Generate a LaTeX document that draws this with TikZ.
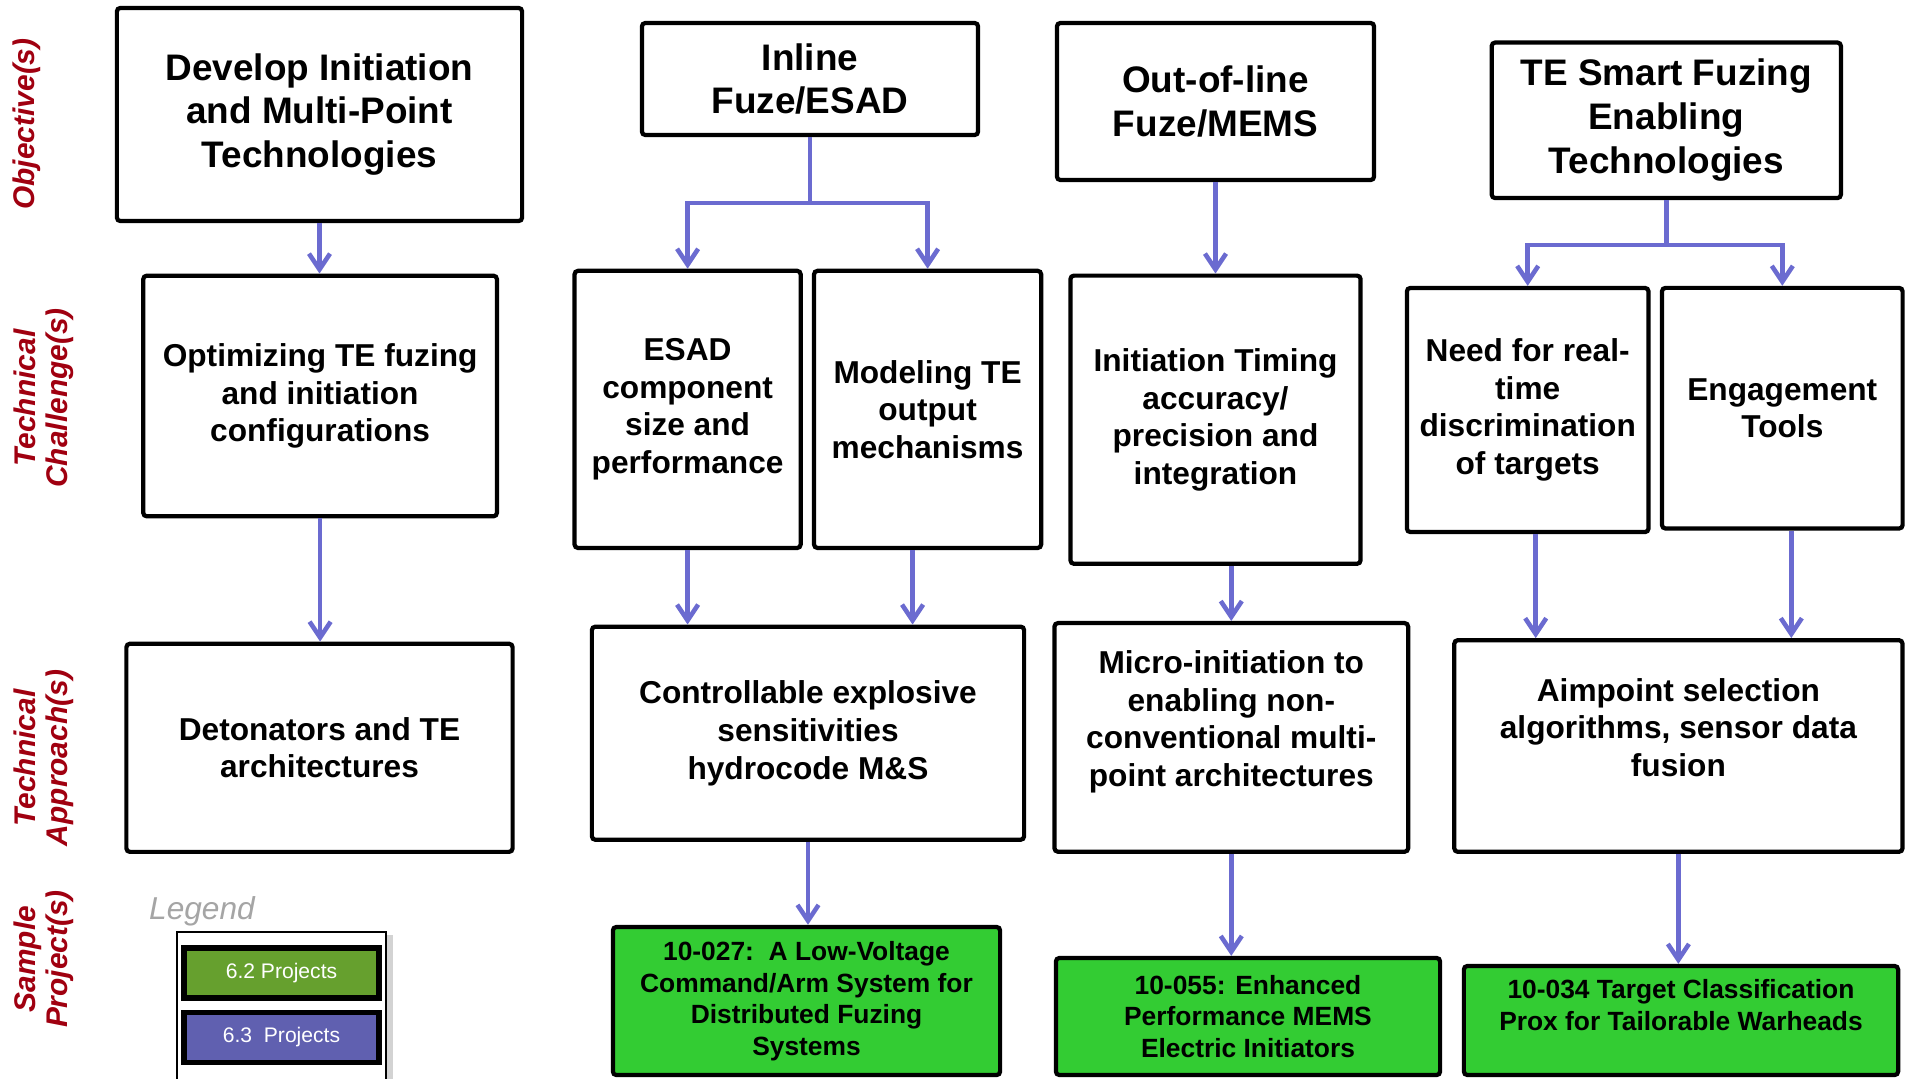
\documentclass[tikz,border=0pt]{standalone}
\usepackage{fontspec}
\setmainfont{Liberation Sans}
\usetikzlibrary{arrows.meta,positioning,shadows}
\definecolor{flowblue}{RGB}{107,107,208}
\definecolor{rowred}{RGB}{160,0,16}
\definecolor{projgreen}{RGB}{51,204,51}
\definecolor{leggreen}{RGB}{102,160,46}
\definecolor{legblue}{RGB}{96,96,176}
\definecolor{leggray}{RGB}{165,165,165}

\begin{document}
\begin{tikzpicture}[x=0.01cm, y=-0.01cm,
    box/.style={draw, line width=1.2pt, rounded corners=1pt, align=center, inner sep=2pt,
      font=\bfseries\fontsize{9}{10.7}\selectfont},
    objbox/.style={box, font=\bfseries\fontsize{10.5}{12.5}\selectfont},
    projbox/.style={box, fill=projgreen, font=\bfseries\fontsize{7.5}{9}\selectfont},
    legbox/.style={draw, line width=1.5pt, text=white, minimum width=1.95cm, minimum height=0.5cm,
      font=\fontsize{6}{7}\selectfont},
    rowlabel/.style={rotate=90, align=center, text=rowred, font=\bfseries\itshape\fontsize{8.5}{9}\selectfont},
    conn/.style={draw=flowblue, line width=1.3pt, -{Straight Barb[length=4.5pt,width=6pt]}}]
  \useasboundingbox (0,0) rectangle (1905,1078);

  % Row labels
  \node[rowlabel] (lobj) at (27,124) {Objective(s)};
  \node[rowlabel] (lchal) at (44,398) {Technical\\Challenge(s)};
  \node[rowlabel] (lappr) at (44,758) {Technical\\Approach(s)};
  \node[rowlabel] (lproj) at (44,959) {Sample\\Project(s)};

  % Objectives
  \node[objbox, minimum width=4.05cm, minimum height=2.13cm] (o1) at (319.5,114.5) {Develop Initiation\\and Multi-Point\\Technologies};
  \node[objbox, minimum width=3.36cm, minimum height=1.12cm] (o2) at (810,79) {Inline\\Fuze/ESAD};
  \node[objbox, minimum width=3.17cm, minimum height=1.57cm] (o3) at (1215.5,101.5) {Out-of-line\\Fuze/MEMS};
  \node[objbox, minimum width=3.49cm, minimum height=1.555cm] (o4) at (1666.3,120.3) {TE Smart Fuzing\\Enabling\\Technologies};

  % Technical challenges
  \node[box, minimum width=3.535cm, minimum height=2.405cm] (c1) at (320.1,396) {Optimizing TE fuzing\\and initiation\\configurations};
  \node[box, minimum width=2.26cm, minimum height=2.77cm] (c2) at (687.6,409.4) {ESAD\\component\\size and\\performance};
  \node[box, minimum width=2.27cm, minimum height=2.77cm] (c3) at (927.6,409.4) {Modeling TE\\output\\mechanisms};
  \node[box, minimum width=2.9cm, minimum height=2.88cm] (c4) at (1215.5,419.7) {Initiation Timing\\accuracy/\\precision and\\integration};
  \node[box, minimum width=2.415cm, minimum height=2.44cm] (c5) at (1527.7,410) {Need for real-\\time\\discrimination\\of targets};
  \node[box, minimum width=2.405cm, minimum height=2.405cm] (c6) at (1782.3,408.2) {Engagement\\Tools};

  % Technical approaches
  \node[box, minimum width=3.86cm, minimum height=2.08cm] (a1) at (319.5,747.8) {Detonators and TE\\architectures};
  \node[box, minimum width=4.32cm, minimum height=2.13cm] (a2) at (808,733.2) {Controllable explosive\\sensitivities\\hydrocode M\&S};
  \node[box, minimum width=3.535cm, minimum height=2.285cm] (a3) at (1231.3,737.4) {Micro-initiation to\\enabling non-\\conventional multi-\\point architectures\\ \mbox{}};
  \node[box, minimum width=4.48cm, minimum height=2.115cm] (a4) at (1678.4,746) {Aimpoint selection\\algorithms, sensor data\\fusion\\ \mbox{}};

  % Sample projects
  \node[projbox, minimum width=3.87cm, minimum height=1.48cm] (p1) at (806.5,1001) {10-027:\ \ A Low-Voltage\\Command/Arm System for\\Distributed Fuzing\\Systems};
  \node[projbox, minimum width=3.84cm, minimum height=1.17cm] (p2) at (1248,1016.5) {10-055: Enhanced\\Performance MEMS\\Electric Initiators};
  \node[projbox, minimum width=4.34cm, minimum height=1.09cm] (p3) at (1681,1020.5) {10-034 Target Classification\\Prox for Tailorable Warheads\\ \mbox{}};

  % Legend
  \node[text=leggray, font=\itshape\fontsize{9}{10}\selectfont] (legtitle) at (202,911) {Legend};
  \node[draw, thick, fill=white, minimum width=2.09cm, minimum height=1.6cm,
    drop shadow={shadow xshift=2pt, shadow yshift=-1pt, opacity=0.35}] (legend) at (281.5,1012) {};
  \node[legbox, fill=leggreen] (leg62) at (281.5,973) {6.2 Projects};
  \node[legbox, fill=legblue] (leg63) at (281.5,1037.5) {6.3\ \ Projects};

  % Connectors
  \draw[conn] (o1.south) -- (o1.south |- c1.north);
  \path (o2.south) ++(0,66) coordinate (o2split);
  \draw[conn] (o2.south) -- (o2split) -| (c2.north);
  \draw[conn] (o2split) -| (c3.north);
  \draw[conn] (o3.south) -- (o3.south |- c4.north);
  \path (o4.south) ++(0,45) coordinate (o4split);
  \draw[conn] (o4.south) -- (o4split) -| (c5.north);
  \draw[conn] (o4split) -| (c6.north);

  \coordinate (c3out) at ([xshift=-0.15cm]c3.south);
  \coordinate (c5out) at ([xshift=0.08cm]c5.south);
  \coordinate (c6out) at ([xshift=0.09cm]c6.south);
  \draw[conn] (c1.south) -- (c1.south |- a1.north);
  \draw[conn] (c2.south) -- (c2.south |- a2.north);
  \draw[conn] (c3out) -- (c3out |- a2.north);
  \draw[conn] (a3.north |- c4.south) -- (a3.north);
  \draw[conn] (c5out) -- (c5out |- a4.north);
  \draw[conn] (c6out) -- (c6out |- a4.north);

  \draw[conn] (a2.south) -- (a2.south |- p1.north);
  \draw[conn] (a3.south) -- (a3.south |- p2.north);
  \draw[conn] (a4.south) -- (a4.south |- p3.north);
\end{tikzpicture}
\end{document}
